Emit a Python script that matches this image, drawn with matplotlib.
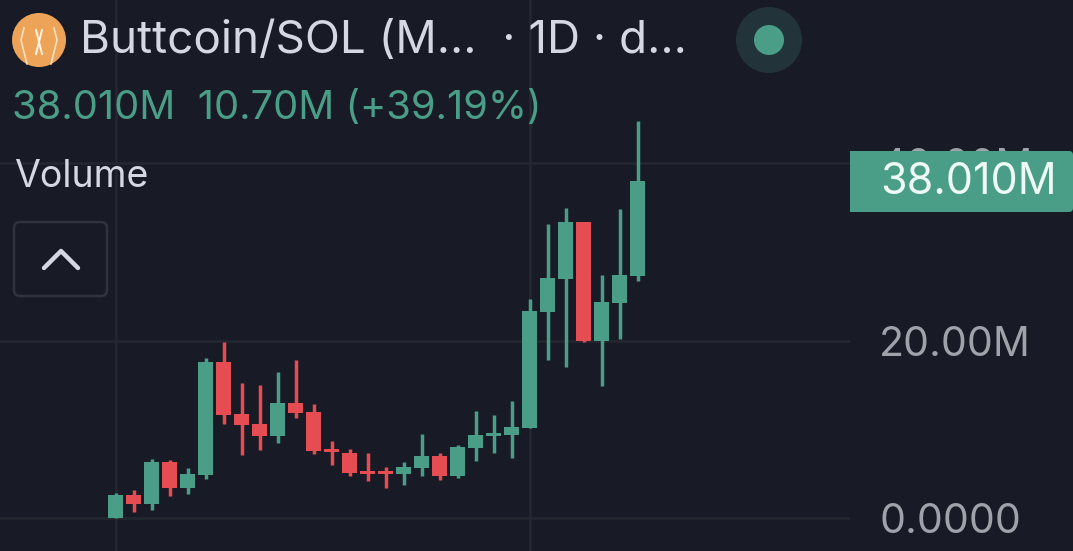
import matplotlib
matplotlib.use("Agg")
import matplotlib.pyplot as plt
from matplotlib.patches import Circle, FancyBboxPatch, Rectangle

# daily candles, values in millions
opens = [0.0, 2.6, 1.6, 6.3, 3.4, 4.85, 17.6, 11.7, 10.6, 9.2,
         13.0, 11.9, 7.8, 7.3, 5.3, 5.3, 5.0, 5.6, 7.0, 4.7,
         7.9, 9.25, 9.35, 10.15, 23.2, 26.9, 33.35, 19.95, 24.2, 27.3]
highs = [2.8, 3.15, 6.7, 6.5, 5.6, 18.0, 19.8, 15.2, 15.0, 16.5,
         17.8, 12.8, 8.7, 7.8, 7.3, 5.75, 6.3, 9.5, 7.3, 8.2,
         12.05, 11.6, 13.2, 24.7, 33.1, 34.9, 33.35, 27.4, 34.8, 44.7]
lows = [0.0, 0.7, 0.9, 2.5, 2.7, 4.4, 10.6, 7.1, 7.7, 8.5,
        11.3, 7.2, 6.0, 4.7, 4.2, 3.4, 3.7, 4.7, 4.3, 4.5,
        6.4, 7.3, 6.8, 10.1, 17.8, 17.0, 19.8, 14.9, 20.2, 26.7]
closes = [2.6, 1.6, 6.3, 3.4, 5.0, 17.6, 11.6, 10.5, 9.2, 13.0,
          11.8, 7.55, 7.4, 5.1, 5.0, 5.0, 5.75, 7.0, 4.7, 8.0,
          9.35, 9.6, 10.25, 23.3, 27.0, 33.35, 19.95, 24.3, 27.4, 38.01]
tick_values = [0, 20, 40]
tick_labels = ["0.0000", "20.00M", "40.00M"]
grid_days = [0, 23]

BG = "#181b25"
GREEN = "#4a9e87"
RED = "#e64d53"
GRID = "#24272f"
LIGHT = "#d5d8e2"
FONT = "Inter"

W, H = 1073, 551
fig = plt.figure(figsize=(W / 100, H / 100), dpi=100, facecolor=BG)

# --- candle panel, pixel scale set so gridlines land where they do in the picture ---
ax = fig.add_axes([0, 0, 850 / W, 1], facecolor=BG)
ax.set_xlim(-115.5 / 18, (850 - 115.5) / 18)
ax.set_ylim((518 - 551) / 8.875, 518 / 8.875)
for s in ax.spines.values():
    s.set_visible(False)

ax.yaxis.tick_right()
ax.set_yticks(tick_values)
ax.set_yticklabels(tick_labels, fontname=FONT, fontsize=29.5, color="#a0a2aa")
ax.tick_params(axis="y", length=0, pad=21)
ax.set_xticks([])
for v in tick_values:
    ax.axhline(v, color=GRID, lw=1.8, zorder=1)
for d in grid_days:
    ax.axvline(d, color=GRID, lw=1.8, zorder=1)

days = list(range(len(opens)))
colors = [GREEN if c >= o else RED for o, c in zip(opens, closes)]
bottoms = [min(o, c) for o, c in zip(opens, closes)]
heights = [abs(c - o) for o, c in zip(opens, closes)]
ax.vlines(days, lows, highs, colors=colors, lw=2.5, zorder=2)
ax.bar(days, heights, bottom=bottoms, width=15 / 18, color=colors, lw=0, zorder=3)

# --- header and widgets on a pixel overlay ---
ov = fig.add_axes([0, 0, 1, 1], zorder=5)
ov.set_xlim(0, W)
ov.set_ylim(H, 0)
ov.axis("off")

# logo
ov.add_patch(Circle((39, 40), 27, color="#eea458", lw=0))
ov.plot([24, 21, 24, 27], [28, 40, 52, 64], color="#fbe6c8", lw=1.1)
ov.plot([54, 57, 54, 51], [28, 40, 52, 64], color="#fbe6c8", lw=1.1)
ov.plot([36, 42], [30, 54], color="#fff4e2", lw=1.4)
ov.plot([42, 36], [30, 54], color="#fff4e2", lw=1.4)

ov.text(80, 41, "Buttcoin/SOL (M...  · 1D · d...", fontname=FONT, fontsize=33,
        color=LIGHT, va="center", ha="left")
ov.text(12, 108, "38.010M  10.70M (+39.19%)", fontname=FONT, fontsize=28.7,
        color=GREEN, va="center", ha="left")
ov.text(14, 177, "Volume", fontname=FONT, fontsize=27, color=LIGHT, va="center", ha="left")

# collapse button
ov.add_patch(FancyBboxPatch((14, 222), 93, 74, boxstyle="round,pad=0,rounding_size=6",
                            fc=BG, ec="#30333d", lw=1.8))
ov.plot([44, 61, 78], [268, 251, 268], color=LIGHT, lw=3.2, solid_capstyle="round")

# status dot
ov.add_patch(Circle((769, 40), 33, color="#22343a", lw=0))
ov.add_patch(Circle((769, 40), 15, color=GREEN, lw=0))

# price badge, covers the 40.00M tick label
ov.add_patch(FancyBboxPatch((850, 151), 223, 61, boxstyle="round,pad=0,rounding_size=4",
                            fc=GREEN, ec="none"))
ov.add_patch(Rectangle((850, 151), 12, 61, fc=GREEN, ec="none"))
ov.text(880, 182, "38.010M", fontname=FONT, fontsize=31, color="#eefaf6", va="center", ha="left")

fig.savefig("out.png", dpi=100, facecolor=BG)
